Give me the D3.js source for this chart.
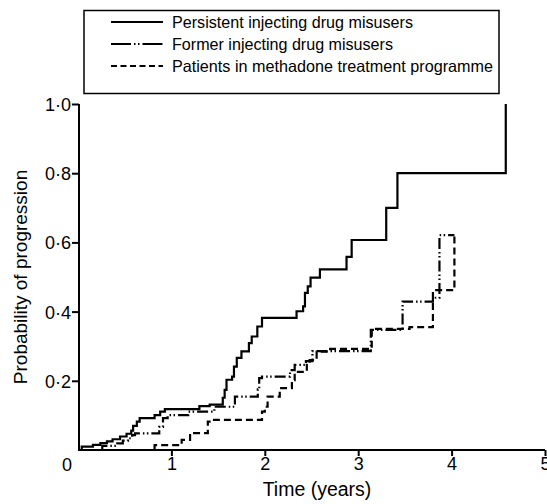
<!DOCTYPE html>
<html>
<head>
<meta charset="utf-8">
<style>
body { margin: 0; background: #fff; }
text { font-family: "Liberation Sans", Arial, Helvetica, sans-serif; fill: #000; }
.axis path, .axis line { stroke: #000; stroke-width: 2px; }
.curve { fill: none; stroke: #000; stroke-width: 2.2px; }
</style>
</head>
<body>
<svg id="chart" width="547" height="504"></svg>
<script src="https://cdnjs.cloudflare.com/ajax/libs/d3/7.8.5/d3.min.js"></script>
<script>
// step points [time in years, probability] - value jumps to p at t
var persistent = [
  [0, 0], [0.04, 0.01], [0.16, 0.015], [0.24, 0.02], [0.31, 0.025], [0.37, 0.031],
  [0.45, 0.039], [0.52, 0.047], [0.57, 0.056], [0.59, 0.07], [0.63, 0.082],
  [0.66, 0.092], [0.82, 0.101], [0.88, 0.111], [0.93, 0.118], [1.30, 0.127],
  [1.41, 0.131], [1.55, 0.151], [1.57, 0.174], [1.59, 0.203], [1.65, 0.212],
  [1.67, 0.241], [1.70, 0.266], [1.75, 0.285], [1.83, 0.309], [1.86, 0.328],
  [1.92, 0.357], [1.97, 0.382], [2.34, 0.401], [2.41, 0.415], [2.43, 0.454],
  [2.46, 0.473], [2.49, 0.498], [2.59, 0.522], [2.875, 0.558], [2.93, 0.607],
  [3.30, 0.70], [3.42, 0.80], [4.58, 1.0]
];
var former = [
  [0, 0], [0.26, 0.012], [0.42, 0.019], [0.48, 0.027], [0.535, 0.034],
  [0.58, 0.043], [0.61, 0.048], [0.87, 0.067], [0.91, 0.092], [0.96, 0.101],
  [1.18, 0.111], [1.46, 0.125], [1.68, 0.154], [1.925, 0.175], [1.94, 0.208],
  [1.97, 0.212], [2.27, 0.231], [2.32, 0.246], [2.44, 0.257], [2.51, 0.286],
  [3.135, 0.347], [3.475, 0.429], [3.80, 0.44], [3.87, 0.621], [4.03, 0.621]
];
var methadone = [
  [0, 0], [0.82, 0.014], [1.11, 0.029], [1.20, 0.049], [1.39, 0.082],
  [1.43, 0.087], [1.97, 0.111], [2.00, 0.125], [2.03, 0.154], [2.16, 0.179],
  [2.29, 0.202], [2.32, 0.226], [2.45, 0.246], [2.48, 0.26], [2.555, 0.284],
  [2.70, 0.292], [3.145, 0.35], [3.55, 0.355], [3.80, 0.462], [4.03, 0.621]
];

var seriesNames = ["Persistent injecting drug misusers",
                   "Former injecting drug misusers",
                   "Patients in methadone treatment programme"];
var seriesDash = ["none", "11,3,1.5,2.5,1.5,3", "7,4"];
var legendDash = [null, "20,3,1.5,2.5,1.5,3", "6,3.5"];
var legendTextWidth = [241, 221, 321];
var xTicks = [1, 2, 3, 4, 5];
var yTicks = [0.2, 0.4, 0.6, 0.8, 1.0];
var yTickLabels = ["0·2", "0·4", "0·6", "0·8", "1·0"];

var svg = d3.select("#chart");

var x = d3.scaleLinear().domain([0, 5]).range([78, 545]);
var y = d3.scaleLinear().domain([0, 1]).range([450, 104]);

// axes
var xAxis = svg.append("g").attr("class", "axis")
  .attr("transform", "translate(0," + y(0) + ")")
  .call(d3.axisBottom(x).tickValues(xTicks).tickSize(6).tickSizeOuter(0).tickFormat(d3.format("d")));
xAxis.selectAll("text").style("font-size", "18px").attr("dy", "0.9em").attr("y", 4);
xAxis.select(".domain").attr("d", "M" + (x(0) + 1) + ",0H" + x(5));

var yAxis = svg.append("g").attr("class", "axis")
  .attr("transform", "translate(" + (x(0) + 1) + ",0)")
  .call(d3.axisLeft(y).tickValues(yTicks).tickSize(7).tickSizeOuter(0)
    .tickFormat(function(d, i) { return yTickLabels[i]; }));
yAxis.selectAll("text").style("font-size", "18px").attr("x", -8).attr("dy", "0.36em");
yAxis.select(".domain").attr("d", "M0," + y(1) + "V" + (y(0) + 1));

// shared origin label
svg.append("text")
  .attr("x", x(0) - 11).attr("y", y(0) + 21)
  .attr("text-anchor", "middle").style("font-size", "18px").text("0");

svg.append("text")
  .attr("x", 317).attr("y", 496)
  .attr("text-anchor", "middle").style("font-size", "19.5px").text("Time (years)");

svg.append("text")
  .attr("transform", "translate(27,277) rotate(-90)")
  .attr("text-anchor", "middle").style("font-size", "19px").text("Probability of progression");

// curves
var line = d3.line()
  .x(function(d) { return x(d[0]); })
  .y(function(d) { return y(d[1]); })
  .curve(d3.curveStepAfter);

[persistent, former, methadone].forEach(function(s, i) {
  svg.append("path")
    .attr("class", "curve")
    .attr("d", line(s))
    .style("stroke-dasharray", seriesDash[i]);
});

// legend
var legend = svg.append("g");
legend.append("rect")
  .attr("x", 84).attr("y", 10.5).attr("width", 415).attr("height", 83)
  .style("fill", "#fff").style("stroke", "#000").style("stroke-width", 1.5);

seriesNames.forEach(function(name, i) {
  var cy = 22 + i * 22;
  legend.append("line")
    .attr("x1", 111).attr("x2", 163).attr("y1", cy).attr("y2", cy)
    .style("stroke", "#000").style("stroke-width", 1.8)
    .style("stroke-dasharray", legendDash[i]);
  legend.append("text")
    .attr("x", 172).attr("y", cy + 6)
    .attr("textLength", legendTextWidth[i])
    .attr("lengthAdjust", "spacingAndGlyphs")
    .style("font-size", "16.5px").text(name);
});
</script>
</body>
</html>
